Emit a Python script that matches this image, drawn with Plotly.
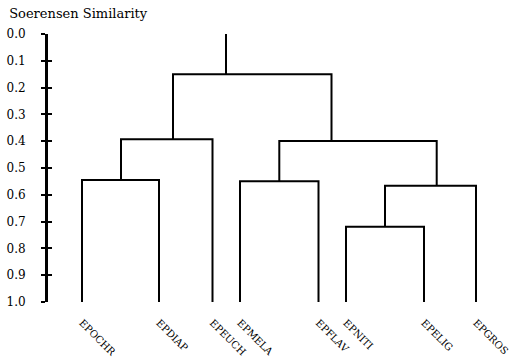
import plotly.graph_objects as go

# Leaves of the dendrogram (left to right) and their horizontal positions
leaves = ["EPOCHR", "EPDIAP", "EPEUCH", "EPMELA", "EPFLAV", "EPNITI", "EPELIG", "EPGROS"]
leaf_x = [82, 159, 212.5, 240, 318.5, 346, 424, 476]
leaf_height = 1.0

# Merges: node ids 0-7 are leaves, 8+ are merges in the order listed
merge_left = [0, 8, 3, 5, 11, 10, 9]
merge_right = [1, 2, 4, 6, 7, 12, 13]
merge_height = [0.545, 0.393, 0.549, 0.719, 0.566, 0.399, 0.150]
merge_x = [121, 173, 279.3, 385, 436.7, 331.5, 226]

y_ticks = [i / 10 for i in range(11)]
y_tick_text = [f"{v:.1f}" for v in y_ticks]

node_x = list(leaf_x) + list(merge_x)
node_h = [leaf_height] * len(leaves) + list(merge_height)

xs, ys = [], []
for l, r, h in zip(merge_left, merge_right, merge_height):
    xs += [node_x[l], node_x[l], node_x[r], node_x[r], None]
    ys += [node_h[l], h, h, node_h[r], None]
# stem above the root
xs += [merge_x[-1], merge_x[-1], None]
ys += [merge_height[-1], 0.0, None]

serif = "DejaVu Serif"

fig = go.Figure()
fig.add_trace(go.Scatter(x=xs, y=ys, mode="lines",
                         line=dict(color="black", width=2),
                         hoverinfo="skip", showlegend=False))
# invisible trace so the overlaid axis (inner half of the tick marks) is drawn
fig.add_trace(go.Scatter(x=[leaf_x[0]], y=[0], yaxis="y2", mode="markers",
                         marker=dict(opacity=0), hoverinfo="skip", showlegend=False))

fig.update_layout(
    width=511, height=363,
    margin=dict(l=48, r=11, t=34, b=61),
    paper_bgcolor="white", plot_bgcolor="white",
    font=dict(family=serif, color="black"),
    title=dict(text="Soerensen Similarity", x=0.018, xanchor="left",
               y=0.975, yanchor="top", font=dict(size=13, family=serif, color="black")),
    xaxis=dict(range=[48, 500], showgrid=False, zeroline=False, showline=False,
               automargin=False,
               tickmode="array", tickvals=leaf_x, ticktext=leaves,
               tickangle=45, ticks="", tickfont=dict(size=10, family=serif, color="black"),
               ticklabelstandoff=12),
    yaxis=dict(range=[1, 0], showgrid=False, zeroline=False, automargin=False,
               showline=True, linecolor="black", linewidth=3,
               tickmode="array", tickvals=y_ticks, ticktext=y_tick_text,
               ticks="outside", ticklen=4, tickwidth=1.5, tickcolor="black",
               tickfont=dict(size=12, family=serif, color="black"), ticklabelstandoff=13),
    yaxis2=dict(range=[1, 0], overlaying="y", side="left", showgrid=False,
                zeroline=False, showline=False, showticklabels=False,
                tickmode="array", tickvals=y_ticks,
                ticks="inside", ticklen=4, tickwidth=1.5, tickcolor="black"),
)

fig.write_html("out.html")
